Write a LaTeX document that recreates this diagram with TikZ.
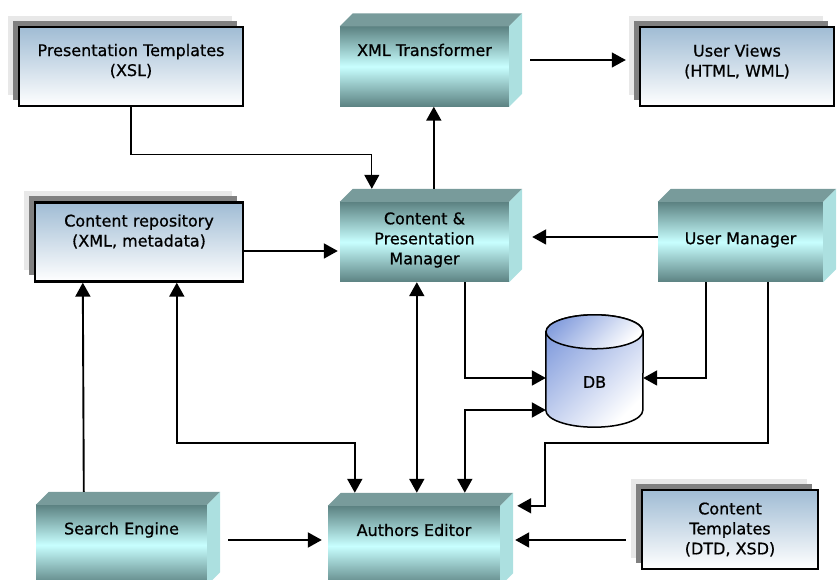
\documentclass[tikz,border=0pt]{standalone}
\usepackage{fontspec}
\setmainfont{DejaVu Sans}[FakeBold=0.7]
\usetikzlibrary{arrows.meta, calc, shadows}
\definecolor{docblue}{RGB}{160,188,212}
\definecolor{cubedark}{RGB}{92,130,130}
\definecolor{cubelight}{RGB}{200,255,255}
\definecolor{cubetop}{RGB}{120,155,155}
\definecolor{cubeside}{RGB}{172,224,224}
\definecolor{dbblue}{RGB}{135,160,222}
\tikzset{
  docbox/.style  = {draw=black, line width=2.4pt, top color=docblue, bottom color=white,
                    minimum height=79pt, inner sep=0pt,
                    general shadow={draw=none, fill=black!9, shadow xshift=-11pt, shadow yshift=11pt},
                    general shadow={draw=none, fill=black!50, shadow xshift=-6pt, shadow yshift=6pt}},
  cubebox/.style = {top color=cubedark, bottom color=cubedark, middle color=cubelight,
                    minimum height=80pt, inner sep=0pt},
  cubetopface/.style  = {fill=cubetop},
  cubesideface/.style = {fill=cubeside},
  dbnode/.style  = {minimum width=97pt, minimum height=112pt, inner sep=0pt},
  dbshade/.style = {top color=dbblue, bottom color=white, shading angle=45,
                    draw=black, line width=1.5pt},
  lbl/.style     = {align=center, font=\fontsize{16}{20}\selectfont, inner sep=0pt},
  arrow/.style   = {-{Triangle[length=14pt, width=15pt]}, line width=1.9pt},
  darrow/.style  = {{Triangle[length=14pt, width=15pt]}-{Triangle[length=14pt, width=15pt]}, line width=1.9pt},
}
\begin{document}
\begin{tikzpicture}[x=1pt, y=1pt]
  \clip (0,0) rectangle (837,580);
  % document boxes
  \foreach \n/\x/\y/\w/\txt/\dy in {pt/131/513.5/224/{Presentation Templates\\(XSL)}/5.5,
                                     uv/737/513.5/194/{User Views\\(HTML, WML)}/5,
                                     cr/139/338/208/{Content repository\\(XML, metadata)}/10.5,
                                     ct/730/50.5/176/{Content\\Templates\\(DTD, XSD)}/0} {
    \node[docbox, minimum width=\w] (\n) at (\x,\y) {};
    \node[lbl] (\n-t) at ([yshift=\dy]\n.center) {\txt};
  }
  % cube boxes
  \foreach \n/\x/\y/\w/\txt/\dy in {xt/424.5/513.5/169/{XML Transformer}/16.5,
                                     cpm/424.5/338/169/{Content \&\\Presentation\\Manager}/2,
                                     um/740.5/338/165/{User Manager}/2,
                                     se/121.5/35/171/{Search Engine}/15,
                                     ae/414/34/172/{Authors Editor}/16} {
    \node[cubebox, minimum width=\w] (\n) at (\x,\y) {};
    \fill[cubetopface] (\n.north west) -- ++(13,13) -- ($(\n.north east)+(13,13)$) -- (\n.north east) -- cycle;
    \fill[cubesideface] (\n.north east) -- ++(13,13) -- ($(\n.south east)+(13,13)$) -- (\n.south east) -- cycle;
    \node[lbl] (\n-t) at ([yshift=\dy]\n.center) {\txt};
  }
  % database
  \node[dbnode] (db) at (594.5,209) {};
  \shade[dbshade] ($(db.north west)+(0,-17)$) -- ($(db.south west)+(0,17)$)
    arc[start angle=180, end angle=360, x radius=48.5, y radius=17]
    -- ($(db.north east)+(0,-17)$)
    arc[start angle=0, end angle=180, x radius=48.5, y radius=17] -- cycle;
  \shade[dbshade] ($(db.north)+(0,-17)$) ellipse [x radius=48.5, y radius=17];
  \node[lbl] (db-t) at ([yshift=-11]db.center) {DB};
  % connectors
  \draw[arrow, line width=1.3pt] (pt.south) |- ([xshift=32,yshift=47]cpm.north west)
    -- ([xshift=32,yshift=13]cpm.north west);
  \draw[arrow] ([xshift=94,yshift=13]cpm.north west) -- ([xshift=94]xt.south west);
  \draw[arrow, line width=1.2pt] ([xshift=21,yshift=6.5]xt.east) -- ([xshift=-13,yshift=6.5]uv.west);
  \draw[arrow] ([yshift=-9]cr.east) -- ([xshift=-2,yshift=-9]cpm.west);
  \draw[arrow] ([yshift=5]um.west) -- ([xshift=23,yshift=5]cpm.east);
  \draw[darrow] ([xshift=77]cpm.south west) -- ([xshift=89,yshift=13]ae.north west);
  \draw[arrow] ([xshift=125]cpm.south west) |- ([yshift=-7]db.west);
  \draw[arrow] ([xshift=48]um.south west) |- ([yshift=-7]db.east);
  \draw[darrow] ([yshift=-39]db.west) -| ([xshift=137,yshift=13]ae.north west);
  \draw[arrow] ([xshift=110]um.south west) |- ([xshift=45,yshift=63]ae.north east)
    |- ([xshift=17]ae.north east);
  \draw[darrow] ([xshift=143]cr.south west) |- ([xshift=27,yshift=63]ae.north west)
    -- ([xshift=27,yshift=13]ae.north west);
  \draw[arrow] ([xshift=48,yshift=13]se.north west) -- ([xshift=49]cr.south west);
  \draw[arrow] ([xshift=21,yshift=5]se.east) -- ([xshift=-6,yshift=6]ae.west);
  \draw[arrow] ([xshift=-15,yshift=-10.5]ct.west) -- ([xshift=15,yshift=6]ae.east);
\end{tikzpicture}
\end{document}
